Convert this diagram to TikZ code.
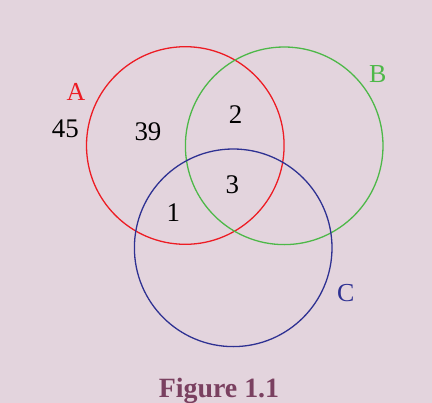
\documentclass[tikz,border=0pt]{standalone}
\usepackage{fontspec}
\setmainfont{Liberation Serif}
\usetikzlibrary{backgrounds}

\definecolor{bgpink}{RGB}{227,212,221}
\definecolor{setred}{RGB}{237,28,36}
\definecolor{setgreen}{RGB}{77,184,72}
\definecolor{setblue}{RGB}{46,49,146}
\definecolor{capcol}{RGB}{122,64,96}

\tikzset{
    setcircle/.style={circle, line width=1.3pt, minimum size=197.6bp, inner sep=0pt},
    count/.style={font=\fontsize{27}{27}\selectfont, text=black, inner sep=0pt},
    setname/.style={font=\fontsize{26}{26}\selectfont, inner sep=0pt}
}

\begin{document}
\begin{tikzpicture}[x=1bp, y=-1bp]
    \fill[bgpink] (0,0) rectangle (432,403);
    \useasboundingbox (0,0) rectangle (432,403);

    % the three sets
    \node[setcircle, draw=setred]   (circA) at (185.3,145.5) {};
    \node[setcircle, draw=setgreen] (circB) at (284.2,145.8) {};
    \node[setcircle, draw=setblue]  (circC) at (233.2,247.8) {};

    % names of the sets
    \node[setname, text=setred]   (nameA) at (76,92) {A};
    \node[setname, text=setgreen] (nameB) at (377.7,74) {B};
    \node[setname, text=setblue]  (nameC) at (345.7,293) {C};

    % counts
    \node[count] (outside) at (65.3,129) {45};
    \node[count] (onlyA)   at (148,132) {39};
    \node[count] (AB)      at (235.7,115) {2};
    \node[count] (ABC)     at (232.3,185) {3};
    \node[count] (AC)      at (173.3,213) {1};

    \node[font=\bfseries\fontsize{28}{28}\selectfont, text=capcol, inner sep=0pt] (caption) at (219,391) {Figure 1.1};
\end{tikzpicture}
\end{document}
